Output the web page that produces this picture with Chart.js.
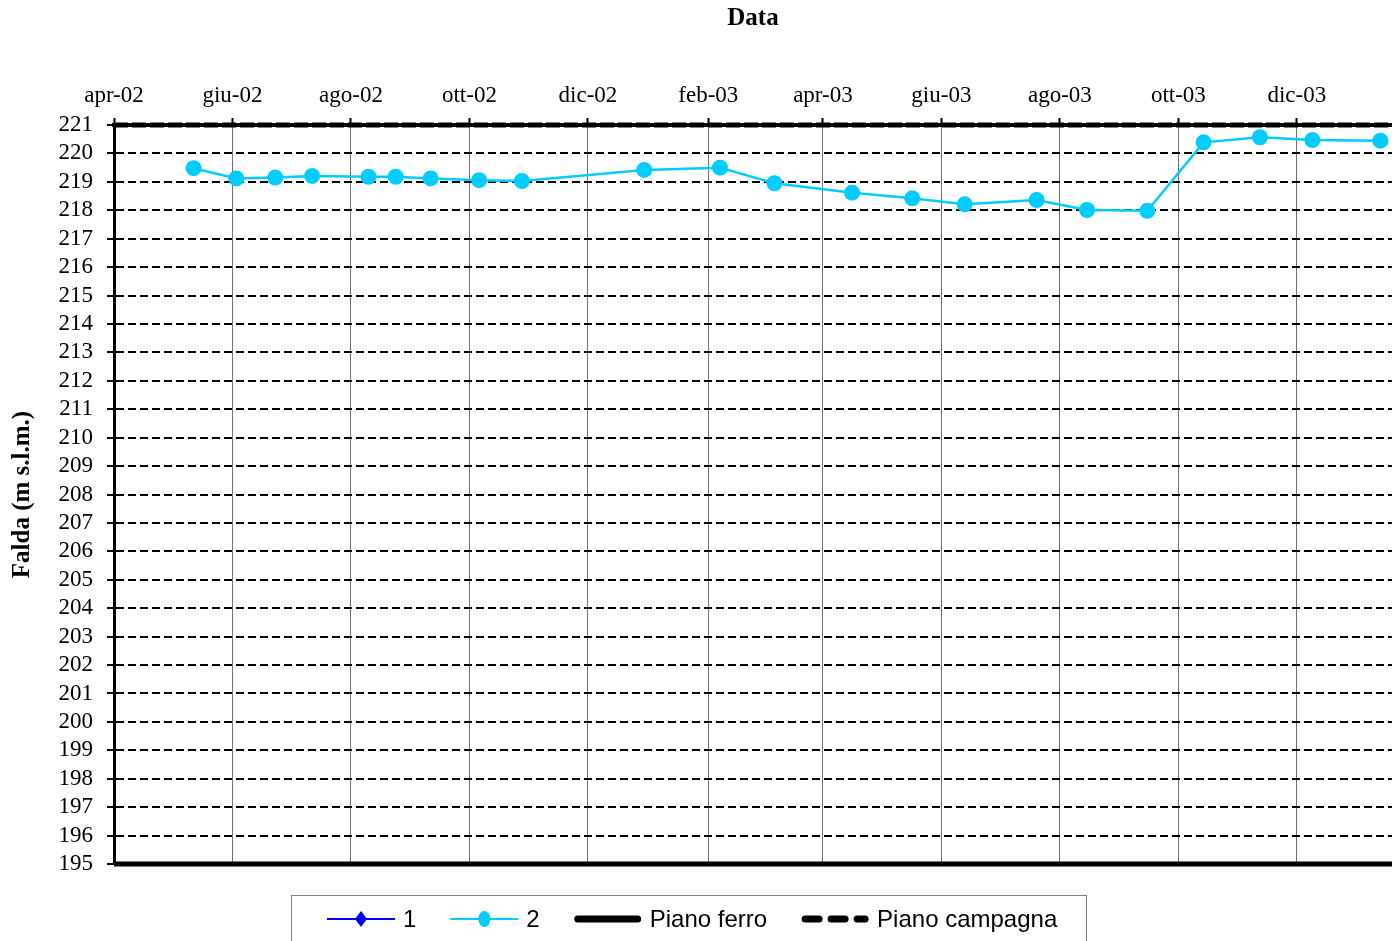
<!DOCTYPE html>
<html>
<head>
<meta charset="utf-8">
<script src="https://cdn.jsdelivr.net/npm/chart.js@4"></script>
<style>
  html, body { margin: 0; padding: 0; background: #fff; }
  #wrap { position: relative; width: 1392px; height: 941px; }
</style>
</head>
<body>
<div id="wrap"><canvas id="falda-chart"></canvas></div>
<script>
// tick marks on the date axis (every two months)
const tickDates = ["2002-04-01", "2002-06-01", "2002-08-01", "2002-10-01", "2002-12-01", "2003-02-01",
  "2003-04-01", "2003-06-01", "2003-08-01", "2003-10-01", "2003-12-01"];
const tickLabels = ["apr-02", "giu-02", "ago-02", "ott-02", "dic-02", "feb-03",
  "apr-03", "giu-03", "ago-03", "ott-03", "dic-03"];
const axisEnd = "2004-01-19";

// measurement dates and groundwater levels (m s.l.m.)
const measureDates = ["2002-05-12", "2002-06-03", "2002-06-23", "2002-07-12", "2002-08-10", "2002-08-24",
  "2002-09-11", "2002-10-06", "2002-10-28", "2002-12-30", "2003-02-07", "2003-03-07",
  "2003-04-16", "2003-05-17", "2003-06-13", "2003-07-20", "2003-08-15", "2003-09-15",
  "2003-10-14", "2003-11-12", "2003-12-09", "2004-01-13"];
const serie1 = [];
const serie2 = [219.48, 219.12, 219.15, 219.21, 219.18, 219.18,
  219.12, 219.06, 219.03, 219.42, 219.50, 218.95,
  218.62, 218.42, 218.21, 218.36, 218.01, 217.98,
  220.39, 220.57, 220.47, 220.45];

const pianoFerro = 195;
const pianoCampagna = 221;
const yMin = 195;
const yMax = 221;

function dayOffset(s) {
  return (Date.parse(s) - Date.parse(tickDates[0])) / 86400000;
}

const xMin = 0;
const xMax = dayOffset(axisEnd);

// legend drawn like the Excel one: boxed row under the plot
const boxLegend = {
  id: "boxLegend",
  afterDraw(chart) {
    const ctx = chart.ctx;
    ctx.save();
    ctx.strokeStyle = "#808080";
    ctx.lineWidth = 1;
    ctx.strokeRect(291.5, 895.5, 795, 60);

    ctx.font = "24px 'Liberation Sans', Arial, sans-serif";
    ctx.textBaseline = "middle";
    const sampleW = 68, textGap = 8, itemGap = 34, y = 919;
    let x = 327;

    chart.data.datasets.forEach((ds) => {
      ctx.save();
      ctx.strokeStyle = ds.borderColor;
      const thick = ds.borderWidth >= 4;
      ctx.lineWidth = thick ? 7 : 2;
      ctx.lineCap = thick ? "round" : "butt";
      ctx.setLineDash(ds.borderDash ? [14, 12] : []);
      ctx.beginPath();
      ctx.moveTo(x + (thick ? 4 : 0), y);
      ctx.lineTo(x + sampleW - (thick ? 4 : 0), y);
      ctx.stroke();
      ctx.setLineDash([]);
      const cx = x + sampleW / 2;
      ctx.fillStyle = ds.backgroundColor;
      if (ds.pointStyle === "rectRot") {
        ctx.beginPath();
        ctx.moveTo(cx, y - 8); ctx.lineTo(cx + 6, y); ctx.lineTo(cx, y + 8); ctx.lineTo(cx - 6, y);
        ctx.closePath(); ctx.fill();
      } else if (ds.pointRadius > 0) {
        ctx.beginPath();
        ctx.ellipse(cx, y, 6, 8, 0, 0, Math.PI * 2);
        ctx.fill();
      }
      ctx.restore();
      ctx.fillStyle = "#000";
      ctx.fillText(ds.label, x + sampleW + textGap, y + 1);
      x += sampleW + textGap + ctx.measureText(ds.label).width + itemGap;
    });
    ctx.restore();
  }
};

const serif = "'Liberation Serif', 'Times New Roman', serif";

new Chart(document.getElementById("falda-chart").getContext("2d"), {
  type: "scatter",
  data: {
    datasets: [
      {
        label: "1",
        data: serie1.map((v, i) => ({ x: dayOffset(measureDates[i]), y: v })),
        showLine: true,
        borderColor: "#0000FF",
        backgroundColor: "#0000FF",
        borderWidth: 2,
        pointStyle: "rectRot",
        pointRadius: 6,
      },
      {
        label: "2",
        data: serie2.map((v, i) => ({ x: dayOffset(measureDates[i]), y: v })),
        showLine: true,
        borderColor: "#00CCFF",
        backgroundColor: "#00CCFF",
        borderWidth: 2.5,
        pointStyle: "circle",
        pointRadius: 8,
        pointBorderWidth: 0,
      },
      {
        label: "Piano ferro",
        data: [{ x: xMin, y: pianoFerro }, { x: xMax, y: pianoFerro }],
        showLine: true,
        borderColor: "#000",
        backgroundColor: "#000",
        borderWidth: 5,
        pointRadius: 0,
        clip: false,
      },
      {
        label: "Piano campagna",
        data: [{ x: xMin, y: pianoCampagna }, { x: xMax, y: pianoCampagna }],
        showLine: true,
        borderColor: "#000",
        backgroundColor: "#000",
        borderWidth: 5,
        borderDash: [14, 4],
        pointRadius: 0,
        clip: false,
      },
    ],
  },
  options: {
    responsive: true,
    maintainAspectRatio: false,
    animation: false,
    layout: { autoPadding: false, padding: { left: 0, right: 0, top: 0, bottom: 77 } },
    plugins: {
      legend: { display: false },
      tooltip: { enabled: false },
    },
    scales: {
      x: {
        type: "linear",
        position: "top",
        min: xMin,
        max: xMax,
        afterBuildTicks: (scale) => {
          scale.ticks = tickDates.map((d) => ({ value: dayOffset(d) }));
        },
        afterFit: (scale) => {
          scale.height = 125;
          scale.paddingLeft = 0;
          scale.paddingRight = 0;
        },
        ticks: {
          autoSkip: false,
          maxRotation: 0,
          padding: 8,
          color: "#000",
          font: { family: serif, size: 23 },
          callback: (value, index) => tickLabels[index],
        },
        grid: {
          color: "#707070",
          lineWidth: 1,
          tickColor: "#000",
          tickWidth: 2,
          tickLength: 7,
        },
        border: { color: "#000", width: 4 },
        title: {
          display: true,
          text: "Data",
          color: "#000",
          font: { family: serif, size: 25, weight: "bold" },
          padding: { top: 4, bottom: 0 },
        },
      },
      y: {
        min: yMin,
        max: yMax,
        afterFit: (scale) => {
          scale.width = 114;
          scale.paddingTop = 0;
          scale.paddingBottom = 0;
        },
        ticks: {
          autoSkip: false,
          stepSize: 1,
          padding: 14,
          color: "#000",
          font: { family: serif, size: 23 },
        },
        grid: {
          color: "#000",
          lineWidth: 2,
          tickColor: "#000",
          tickWidth: 2,
          tickLength: 7,
          tickBorderDash: [1, 0],
        },
        border: { color: "#000", width: 3, dash: [8, 4] },
        title: {
          display: true,
          text: "Falda (m s.l.m.)",
          color: "#000",
          font: { family: serif, size: 25, weight: "bold" },
          padding: { top: 8, bottom: 0 },
        },
      },
    },
  },
  plugins: [boxLegend],
});
</script>
</body>
</html>
